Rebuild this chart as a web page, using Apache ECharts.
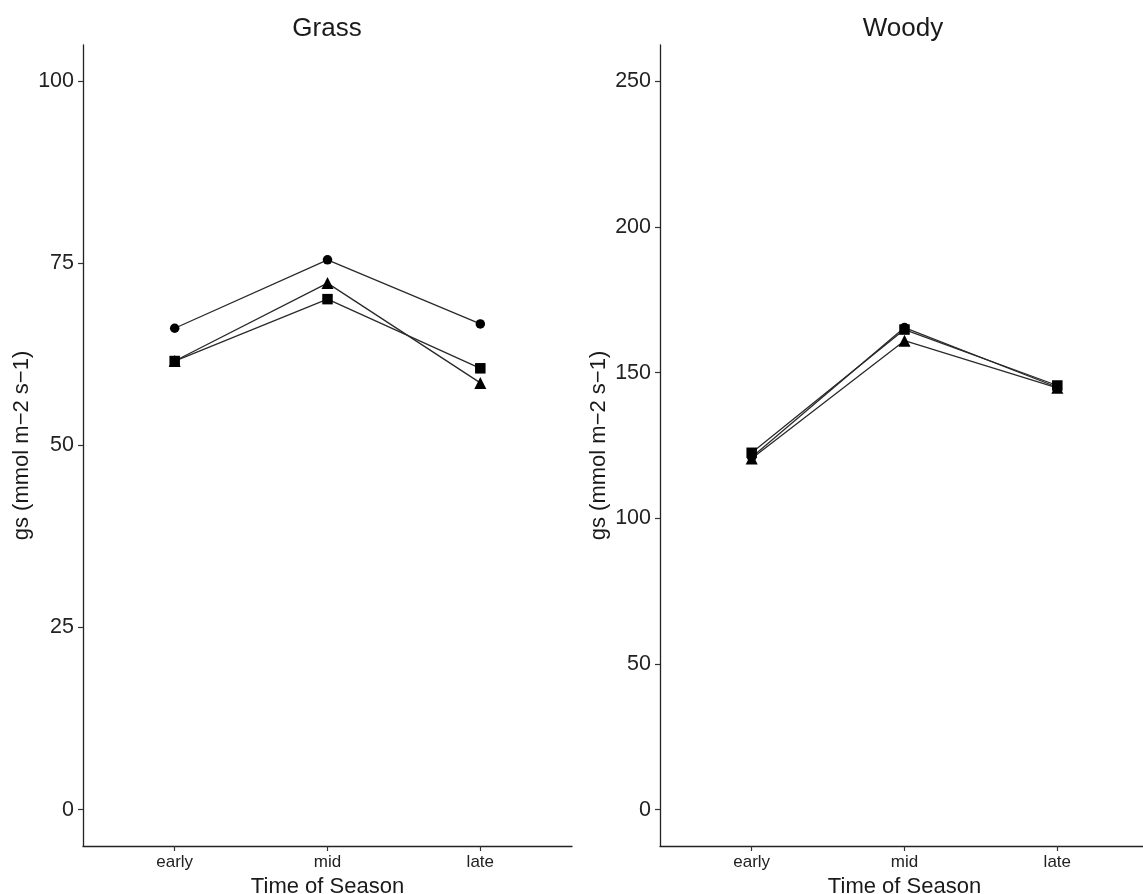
<!DOCTYPE html>
<html>
<head>
<meta charset="utf-8">
<script src="https://cdn.jsdelivr.net/npm/echarts@6/dist/echarts.min.js"></script>
<style>
  html, body { margin: 0; padding: 0; background: #fff; }
  #chart { width: 1143px; height: 894px; }
</style>
</head>
<body>
<div id="chart"></div>
<script>
// Seasonal stomatal conductance, two growth forms
const seasons = ['early', 'mid', 'late'];
const seasonPos = [1, 2, 3];

const grassCircle   = [66.1, 75.5, 66.7];
const grassTriangle = [61.6, 72.3, 58.6];
const grassSquare   = [61.6, 70.1, 60.6];

const woodyCircle   = [121.0, 165.5, 145.0];
const woodyTriangle = [120.5, 161.0, 144.8];
const woodySquare   = [122.5, 164.8, 145.6];

const grassTicks = [0, 25, 50, 75, 100];
const woodyTicks = [0, 50, 100, 150, 200, 250];

const FONT = '"Liberation Sans", Arial, sans-serif';
const INK = '#1a1a1a';

const pairs = vals => vals.map((v, i) => [seasonPos[i], v]);

function xAxisFor(gridIndex) {
  return {
    type: 'value', gridIndex, min: 0.4, max: 3.6,
    name: 'Time of Season', nameLocation: 'middle', nameGap: 20,
    nameTextStyle: { fontFamily: FONT, fontSize: 22, color: INK },
    axisLine: { show: true, onZero: false, lineStyle: { color: '#222', width: 1.3 } },
    axisTick: { show: true, customValues: seasonPos, length: 5, lineStyle: { color: '#333', width: 1.2 } },
    axisLabel: {
      customValues: seasonPos, margin: 8,
      fontFamily: FONT, fontSize: 17, color: '#222',
      formatter: v => seasons[Math.round(v) - 1]
    },
    splitLine: { show: false }
  };
}

function yAxisFor(gridIndex, ticks, lo, hi) {
  return {
    type: 'value', gridIndex, min: lo, max: hi,
    name: 'gs (mmol m\u22122 s\u22121)', nameLocation: 'middle', nameGap: 50,
    nameTextStyle: { fontFamily: FONT, fontSize: 22, color: INK },
    axisLine: { show: true, onZero: false, lineStyle: { color: '#222', width: 1.3 } },
    axisTick: { show: true, customValues: ticks, length: 5, lineStyle: { color: '#333', width: 1.2 } },
    axisLabel: { customValues: ticks, margin: 9, fontFamily: FONT, fontSize: 21.5, color: '#222' },
    splitLine: { show: false }
  };
}

function lineSeries(name, idx, vals, symbol, size) {
  return {
    name, type: 'line', xAxisIndex: idx, yAxisIndex: idx,
    data: pairs(vals), symbol, symbolSize: size, showAllSymbol: true,
    lineStyle: { color: '#2a2a2a', width: 1.3 },
    itemStyle: { color: '#000', borderWidth: 0 },
    emphasis: { disabled: true }, animation: false
  };
}

const chart = echarts.init(document.getElementById('chart'), null, { renderer: 'canvas' });
chart.setOption({
  backgroundColor: '#fff',
  animation: false,
  title: [
    { text: 'Grass', left: 322, top: 11, textAlign: 'center',
      textStyle: { fontFamily: FONT, fontSize: 26, fontWeight: 'normal', color: INK } },
    { text: 'Woody', left: 898, top: 11, textAlign: 'center',
      textStyle: { fontFamily: FONT, fontSize: 26, fontWeight: 'normal', color: INK } }
  ],
  grid: [
    { left: 83, top: 45, width: 489, height: 801, containLabel: false, outerBoundsMode: 'none' },
    { left: 660, top: 45, width: 489, height: 801, containLabel: false, outerBoundsMode: 'none' }
  ],
  xAxis: [xAxisFor(0), xAxisFor(1)],
  yAxis: [yAxisFor(0, grassTicks, -5, 105), yAxisFor(1, woodyTicks, -12.5, 262.5)],
  series: [
    lineSeries('circle', 0, grassCircle, 'circle', 9.5),
    lineSeries('triangle', 0, grassTriangle, 'triangle', 12),
    lineSeries('square', 0, grassSquare, 'rect', 10.5),
    lineSeries('circle', 1, woodyCircle, 'circle', 9.5),
    lineSeries('triangle', 1, woodyTriangle, 'triangle', 12),
    lineSeries('square', 1, woodySquare, 'rect', 10.5)
  ]
});
</script>
</body>
</html>
